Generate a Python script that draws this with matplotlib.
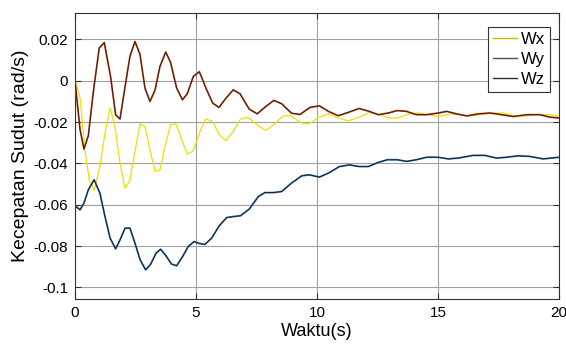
import matplotlib
matplotlib.use("Agg")
import matplotlib.pyplot as plt
from matplotlib.lines import Line2D

plt.rcParams['font.family'] = ['Liberation Sans', 'DejaVu Sans']
plt.rcParams['axes.unicode_minus'] = False

# Wx (yellow)
t_wx = [0, 0.21, 0.41, 0.59, 0.8, 1.03, 1.24, 1.45, 1.65, 1.86, 2.07, 2.27, 2.48, 2.69, 2.89,
        3.1, 3.31, 3.51, 3.72, 3.95, 4.17, 4.41, 4.64, 4.89, 5.17, 5.41, 5.69, 5.96, 6.24,
        6.54, 6.84, 7.16, 7.58, 7.89, 8.26, 8.61, 8.91, 9.37, 9.68, 10.1, 10.47, 10.88,
        11.29, 11.75, 12.16, 12.57, 13.02, 13.36, 13.77, 14.19, 14.6, 15.01, 15.5, 15.9,
        16.32, 16.74, 17.15, 17.7, 18.18, 18.67, 19.08, 19.56, 20]
wx = [0, -0.0084, -0.0334, -0.048, -0.053, -0.0415, -0.0253, -0.0132, -0.0221, -0.0398,
      -0.052, -0.048, -0.0342, -0.0208, -0.0221, -0.0334, -0.0439, -0.0431, -0.0318,
      -0.0213, -0.0208, -0.0286, -0.0355, -0.0339, -0.0245, -0.0185, -0.0197, -0.0261,
      -0.0289, -0.0245, -0.0185, -0.0178, -0.0218, -0.024, -0.0208, -0.0169, -0.0169,
      -0.0205, -0.0208, -0.0176, -0.016, -0.018, -0.0194, -0.0176, -0.0153, -0.0164,
      -0.018, -0.018, -0.0161, -0.0156, -0.0164, -0.0173, -0.016, -0.0164, -0.017,
      -0.0164, -0.0156, -0.0156, -0.017, -0.017, -0.0164, -0.0164, -0.017]

# Wy (blue / dark)
t_wy = [0, 0.21, 0.37, 0.55, 0.79, 1.03, 1.24, 1.45, 1.68, 1.86, 2.07, 2.27, 2.48, 2.69,
        2.92, 3.13, 3.35, 3.54, 3.76, 3.99, 4.2, 4.45, 4.68, 4.92, 5.1, 5.37, 5.65, 5.96,
        6.27, 6.54, 6.84, 7.2, 7.58, 7.85, 8.2, 8.54, 8.95, 9.37, 9.68, 10.1, 10.47, 10.93,
        11.34, 11.75, 12.12, 12.53, 12.91, 13.32, 13.7, 14.11, 14.53, 15.01, 15.43, 15.84,
        16.46, 16.94, 17.42, 17.84, 18.32, 18.8, 19.35, 20]
wy = [-0.0605, -0.0624, -0.0592, -0.0528, -0.0479, -0.0544, -0.0657, -0.0761, -0.0813,
      -0.077, -0.0713, -0.0713, -0.0786, -0.0866, -0.0915, -0.0887, -0.0834, -0.0815,
      -0.0847, -0.0887, -0.0895, -0.085, -0.0802, -0.0778, -0.0786, -0.0792, -0.0761,
      -0.0702, -0.0662, -0.0657, -0.0653, -0.0621, -0.056, -0.0541, -0.0541, -0.0536,
      -0.0495, -0.046, -0.0455, -0.0466, -0.0447, -0.0415, -0.0407, -0.0415, -0.0415,
      -0.0395, -0.0382, -0.0382, -0.039, -0.0382, -0.037, -0.037, -0.0378, -0.0374,
      -0.0361, -0.0361, -0.0374, -0.037, -0.0363, -0.0366, -0.0378, -0.037]

# Wz (dark red)
t_wz = [0, 0.21, 0.37, 0.55, 0.76, 1.0, 1.21, 1.47, 1.68, 1.86, 2.07, 2.27, 2.48, 2.69,
        2.89, 3.1, 3.31, 3.51, 3.75, 3.95, 4.2, 4.44, 4.64, 4.89, 5.14, 5.41, 5.69, 5.95,
        6.24, 6.54, 6.82, 7.2, 7.53, 7.89, 8.22, 8.54, 8.95, 9.3, 9.71, 10.1, 10.47, 10.88,
        11.29, 11.75, 12.16, 12.53, 12.95, 13.32, 13.7, 14.11, 14.53, 15.01, 15.36, 15.77,
        16.19, 16.67, 17.15, 17.63, 18.11, 18.67, 19.21, 19.63, 20]
wz = [0, -0.0237, -0.033, -0.0266, -0.0052, 0.0158, 0.0185, 0.0021, -0.0165, -0.0185,
      -0.0028, 0.0118, 0.019, 0.0126, -0.0035, -0.01, -0.0044, 0.0069, 0.0139, 0.0089,
      -0.0035, -0.0092, -0.0063, 0.0021, 0.0044, -0.0035, -0.0108, -0.0129, -0.0084,
      -0.0044, -0.0063, -0.0137, -0.016, -0.0124, -0.0095, -0.0111, -0.0157, -0.0163,
      -0.0129, -0.0121, -0.0148, -0.0169, -0.0153, -0.0134, -0.0148, -0.0164, -0.0156,
      -0.0144, -0.0148, -0.0164, -0.0164, -0.0156, -0.0148, -0.016, -0.017, -0.016,
      -0.0156, -0.0164, -0.0173, -0.0164, -0.0164, -0.0176, -0.018]

xticks = [0, 5, 10, 15, 20]
yticks = [-0.1, -0.08, -0.06, -0.04, -0.02, 0, 0.02]
ytick_labels = ['-0.1', '-0.08', '-0.06', '-0.04', '-0.02', '0', '0.02']
legend_labels = ['Wx', 'Wy', 'Wz']

fig = plt.figure(figsize=(5.66, 3.47), dpi=100)
ax = fig.add_axes([0.1325, 0.1383, 0.855, 0.8242])

ax.plot(t_wx, wx, color='#ece000', lw=0.9, zorder=3)
ax.plot(t_wy, wy, color='#3a78b8', lw=1.3, zorder=3)
ax.plot(t_wy, wy, color='#15202c', lw=0.7, zorder=4)
ax.plot(t_wz, wz, color='#cc5a2a', lw=1.3, zorder=3)
ax.plot(t_wz, wz, color='#3a1a14', lw=0.7, zorder=4)

ax.set_xlim(0, 20)
ax.set_ylim(-0.1056, 0.0328)
ax.set_xticks(xticks)
ax.set_yticks(yticks)
ax.set_yticklabels(ytick_labels)
ax.grid(True, color='#a0a0a0', lw=0.8)
ax.set_axisbelow(True)
ax.tick_params(direction='in', top=True, right=True, labelsize=11, length=4,
               color='#333333', pad=5)
for s in ax.spines.values():
    s.set_color('#333333')
    s.set_linewidth(0.8)

ax.set_xlabel('Waktu(s)', fontsize=13, labelpad=2)
ax.set_ylabel('Kecepatan Sudut (rad/s)', fontsize=14, labelpad=3)

handles = [Line2D([0], [0], color='#c8bc00', lw=1.0),
           Line2D([0], [0], color='#505050', lw=1.0),
           Line2D([0], [0], color='#3a2a2a', lw=1.0)]
leg = ax.legend(handles, legend_labels, loc='upper right', fontsize=12,
                bbox_to_anchor=(0.9814, 0.951),
                fancybox=False, framealpha=1, edgecolor='#333333',
                handlelength=1.45, handletextpad=0.2, borderpad=0.3,
                labelspacing=0.3, borderaxespad=0.0)
leg.get_frame().set_linewidth(0.8)

fig.savefig('out.png', dpi=100)
